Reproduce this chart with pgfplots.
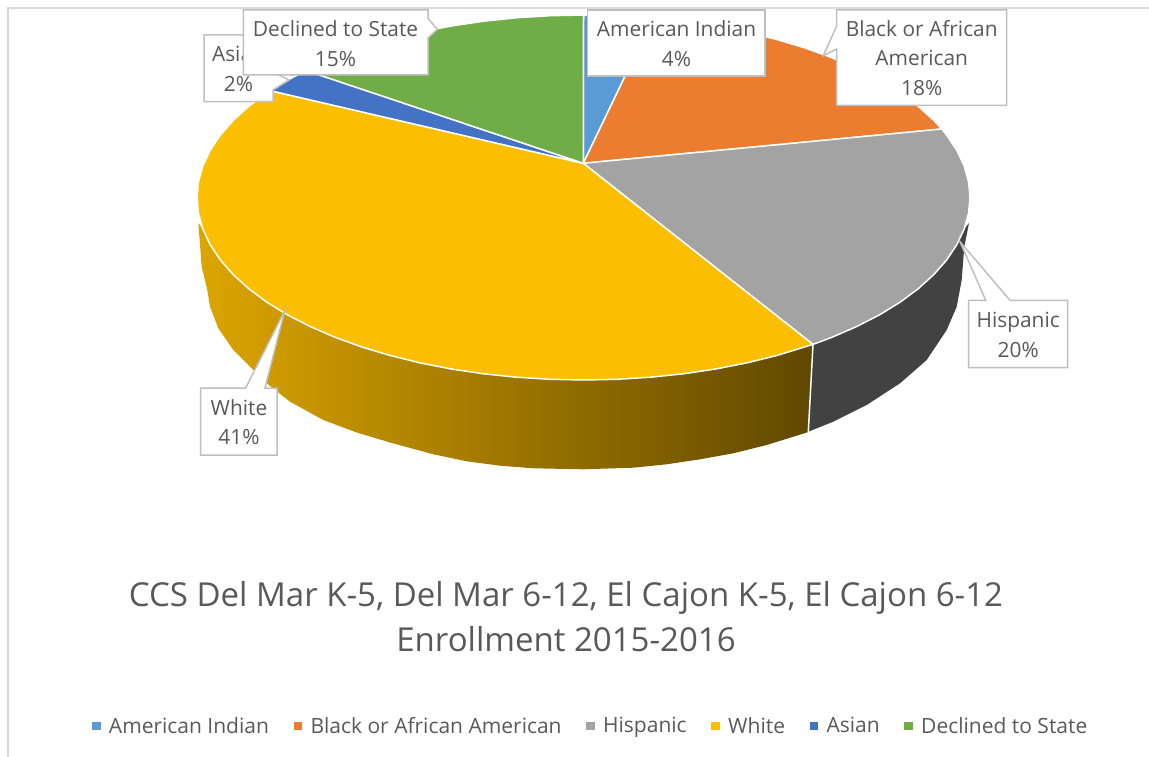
\documentclass[border=0pt]{standalone}
\usepackage{fontspec}
\setmainfont{Open Sans}
\usepackage{pgfplots}
\pgfplotsset{compat=1.18}
\definecolor{indianc}{HTML}{5B9BD5}
\definecolor{blackc}{HTML}{EB7C30}
\definecolor{hispc}{HTML}{A3A3A3}
\definecolor{whitec}{HTML}{FCBE00}
\definecolor{asianc}{HTML}{4472C4}
\definecolor{declc}{HTML}{70AD47}
\definecolor{txt}{HTML}{595959}
\definecolor{frame}{HTML}{D9D9D9}
\definecolor{callout}{HTML}{BFBFBF}
\pgfplotsset{
  wedge/.style={draw=white, line width=1.5pt, line join=round, forget plot},
  box/.style={fill=white, draw=callout, line width=1.5pt, line join=miter, forget plot},
}
\tikzset{lab/.style={text=txt, font=\fontsize{20.9}{29.5}\selectfont, align=center, inner sep=0pt}}
\begin{document}
\begin{tikzpicture}
\begin{axis}[
    scale only axis, width=1149pt, height=757pt,
    xmin=0, xmax=1149, ymin=0, ymax=757,
    y dir=reverse,
    axis lines=none,
    legend columns=-1,
    legend style={at={(axis cs:92,726)}, anchor=west, draw=none, fill=none,
      font=\fontsize{21}{24}\selectfont, text=txt, inner sep=0pt, outer sep=0pt,
      /tikz/every even column/.append style={column sep=16pt},
      nodes={inner xsep=8.5pt}},
    legend image code/.code={\path[#1] (0pt,-4pt) rectangle (8.5pt,4.5pt);},
]
\path (axis cs:0,0) rectangle (axis cs:1149,757);

% frame of the chart area
\addplot[draw=frame, line width=2pt, forget plot] coordinates {(8,757) (8,8.5) (1149,8.5)};

% side of the pie
\addplot[draw=none, shade, left color={rgb,255:red,220;green,165;blue,0}, right color={rgb,255:red,96;green,72;blue,0}, forget plot] coordinates {
  (198.3,223) (202.9,229.2) (210.2,244.7) (220.3,259.9) (233.2,274.6) (248.8,288.75) (266.9,302.2) (287.4,314.8) (310.2,326.5)
  (335.1,337.3) (361.8,347) (390.25,355.5) (420.2,362.9) (451.3,369) (483.5,373.8) (516.4,377.2)
  (549.8,379.3) (583.5,380) (617.2,379.3) (650.6,377.2) (683.5,373.8) (715.7,369) (746.8,362.9) (776.8,355.5) (813,344.4)
  (808.3,432) (766.7,445) (733.3,453.3) (700,459.3) (666.7,464.3) (633.3,467.7) (583.3,469.3) (533.3,468.3) (500,465.7) (466.7,461.3)
  (433.3,454.3) (390,442.5) (356.7,432.5) (323.3,420) (290,401.7) (266.7,383.3) (253.3,370) (233.3,350)
  (218.3,328.3) (210,306.7) (207.3,290) (201.7,266.7)} --cycle;
\addplot[fill=black!74, draw=none, forget plot] coordinates {
  (969,223) (964.1,229.2) (956.8,244.7) (946.7,259.9) (933.8,274.6) (918.2,288.75) (900.1,302.2) (879.6,314.8) (856.8,326.5) (831.9,337.3) (813,344.4)
  (808.3,431.7) (833.3,421.7) (866.7,405) (900,383.3) (926.7,360) (946.7,330) (956.7,306.7) (961.7,280) (964.3,246.7)} --cycle;
\addplot[draw=white, line width=1.5pt, forget plot] coordinates {(813,344.4) (808.3,432)};

% top of the pie, clockwise from twelve o'clock
\addplot[wedge, fill=indianc] coordinates {(583.3,163.3) (583.5,15) (617.2,15.7) (653,17.9)} --cycle;
\addplot[wedge, fill=blackc] coordinates {(583.3,163.3) (653,17.9) (683.5,21.2) (715.7,26) (746.8,32.1) (776.8,39.5)
  (805.2,48) (831.9,57.7) (856.8,68.5) (879.6,80.2) (900.1,92.8) (918.2,106.25) (933.8,120.4) (941.8,129)} --cycle;
\addplot[wedge, fill=hispc] coordinates {(583.3,163.3) (941.8,129) (946.7,135.1) (956.8,150.3) (964.1,165.8) (968.5,181.6) (970,197.5)
  (968.5,213.4) (964.1,229.2) (956.8,244.7) (946.7,259.9) (933.8,274.6) (918.2,288.75) (900.1,302.2) (879.6,314.8)
  (856.8,326.5) (831.9,337.3) (813,344.4)} --cycle;
\addplot[wedge, fill=whitec] coordinates {(583.3,163.3) (813,344.4) (776.8,355.5) (746.8,362.9) (715.7,369) (683.5,373.8)
  (650.6,377.2) (617.2,379.3) (583.5,380) (549.8,379.3) (516.4,377.2) (483.5,373.8) (451.3,369) (420.2,362.9) (390.25,355.5)
  (361.8,347) (335.1,337.3) (310.2,326.5) (287.4,314.8) (266.9,302.2) (248.8,288.75) (233.2,274.6) (220.3,259.9)
  (210.2,244.7) (202.9,229.2) (198.5,213.4) (197,197.5) (198.5,181.6) (202.9,165.8) (210.2,150.3) (220.3,135.1)
  (233.2,120.4) (248.8,106.25) (270,90.6)} --cycle;
\addplot[wedge, fill=asianc] coordinates {(583.3,163.3) (270,90.6) (287.4,80.2) (306,70.5)} --cycle;
\addplot[wedge, fill=declc] coordinates {(583.3,163.3) (306,70.5) (335.1,57.7) (361.8,48) (390.25,39.5) (420.2,32.1) (451.3,26)
  (483.5,21.2) (516.4,17.8) (549.8,15.7) (583.5,15)} --cycle;

% callouts
\addplot[box] coordinates {(204,35) (273,35) (273,72) (289,80) (273,90) (273,101.7) (204,101.7)} --cycle;
\node[lab] at (axis cs:238.5,69) {Asian\\2\%};
\addplot[box] coordinates {(243.3,10) (428,10) (428,18.3) (437.3,29.3) (428,38) (428,75) (243.3,75)} --cycle;
\node[lab] at (axis cs:335.5,43.5) {Declined to State\\15\%};
\addplot[box] coordinates {(587.3,10) (765,10) (765,76) (587.3,76)} --cycle;
\node[lab] at (axis cs:676.5,43.5) {American Indian\\4\%};
\addplot[box] coordinates {(836.7,10) (1006.7,10) (1006.7,105.3) (836.7,105.3) (836.7,49) (823.3,55.7) (836.7,26)} --cycle;
\node[lab] at (axis cs:921.7,58) {Black or African\\American\\18\%};
\addplot[box] coordinates {(968.7,300.3) (985.7,300.3) (960,241.7) (1010,300.3) (1067.7,300.3) (1067.7,367.7) (968.7,367.7)} --cycle;
\node[lab] at (axis cs:1018.2,335) {Hispanic\\20\%};
\addplot[box] coordinates {(200.7,388) (245.7,388) (285,310) (265,388) (277,388) (277,455) (200.7,455)} --cycle;
\node[lab] at (axis cs:239,422) {White\\41\%};

% title
\node[text=txt, font=\fontsize{33}{45}\selectfont, align=center, inner sep=0pt] at (axis cs:566,617) {CCS Del Mar K-5, Del Mar 6-12, El Cajon K-5, El Cajon 6-12\\Enrollment 2015-2016};

% legend
\addlegendimage{fill=indianc, draw=none}
\addlegendentry{American Indian}
\addlegendimage{fill=blackc, draw=none}
\addlegendentry{Black or African American}
\addlegendimage{fill=hispc, draw=none}
\addlegendentry{Hispanic}
\addlegendimage{fill=whitec, draw=none}
\addlegendentry{White}
\addlegendimage{fill=asianc, draw=none}
\addlegendentry{Asian}
\addlegendimage{fill=declc, draw=none}
\addlegendentry{Declined to State}
\end{axis}
\end{tikzpicture}
\end{document}
